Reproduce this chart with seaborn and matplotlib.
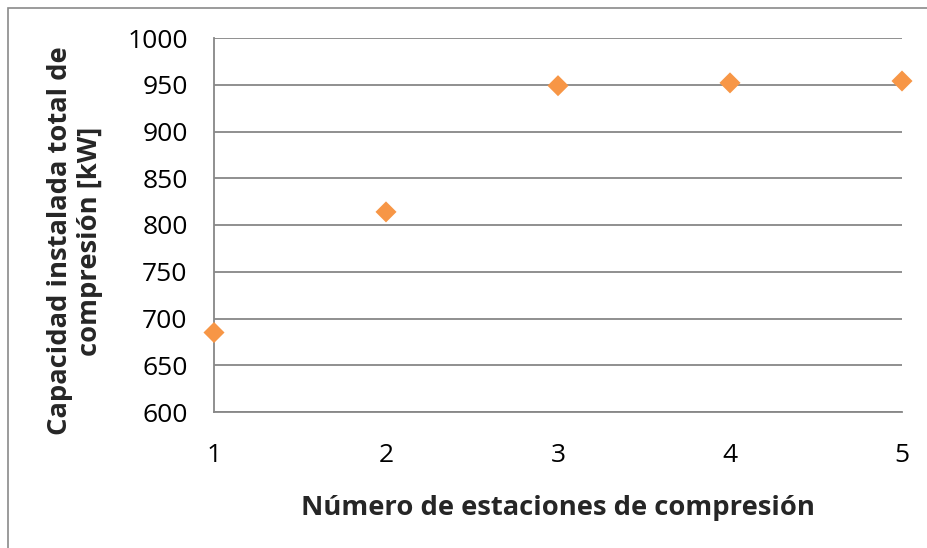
import matplotlib
matplotlib.use("Agg")
import matplotlib.pyplot as plt
import seaborn as sns
import pandas as pd
from matplotlib.patches import Rectangle

# Number of compression stations vs. total installed compression capacity
estaciones = [1, 2, 3, 4, 5]
capacidad_kw = [685, 814, 949, 952, 954]
y_ticks = [600, 650, 700, 750, 800, 850, 900, 950, 1000]
x_ticks = [1, 2, 3, 4, 5]

df = pd.DataFrame({"estaciones": estaciones, "capacidad": capacidad_kw})

sns.set_theme(style="white")
plt.rcParams["font.family"] = ["Open Sans", "DejaVu Sans"]

W, H = 928, 548
grid_col = "#878787"
fig = plt.figure(figsize=(W / 100, H / 100), dpi=100)
ax = fig.add_axes([214 / W, 1 - 412 / H, (902 - 214) / W, (412 - 38) / H])

# Outer chart frame
fig.patches.append(Rectangle((8 / W, -0.1), 1.2, 1 - 8 / H + 0.1,
                             transform=fig.transFigure, fill=False,
                             edgecolor="#8a8a8a", linewidth=1.2, zorder=0))

sns.scatterplot(data=df, x="estaciones", y="capacidad", ax=ax, marker="D",
                s=115, color="#F79646", edgecolor="none", zorder=5, clip_on=False)

ax.set_xlim(1, 5)
ax.set_ylim(600, 1000)
ax.set_xticks(x_ticks)
ax.set_yticks(y_ticks)
ax.set_xticklabels([str(v) for v in x_ticks])
ax.set_yticklabels([str(v) for v in y_ticks])
ax.yaxis.grid(True, color=grid_col, linewidth=1.3)
ax.xaxis.grid(False)
ax.set_axisbelow(True)

for side in ["top", "right"]:
    ax.spines[side].set_visible(False)
for side in ["left", "bottom"]:
    ax.spines[side].set_color(grid_col)
    ax.spines[side].set_linewidth(1.3)

ax.tick_params(axis="both", which="both", direction="out", length=6, width=1.3,
               color=grid_col, labelsize=19, labelcolor="black")
ax.tick_params(axis="y", pad=13)
ax.tick_params(axis="x", pad=16)

ax.set_xlabel("")
ax.set_ylabel("")
fig.text(558 / W, 1 - 515 / H, "Número de estaciones de compresión",
         fontsize=19.7, fontweight="bold", ha="center", va="baseline")
fig.text(75 / W, 1 - 241 / H, "Capacidad instalada total de\ncompresión [kW]",
         fontsize=19.7, fontweight="bold", ha="center", va="center",
         rotation=90, linespacing=1.2, multialignment="center")

fig.savefig("out.png", dpi=100)
